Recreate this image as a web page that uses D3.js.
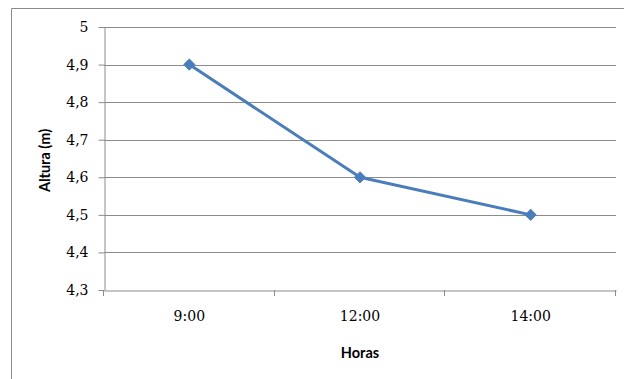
<!DOCTYPE html>
<html>
<head>
<meta charset="utf-8">
<script src="https://cdn.jsdelivr.net/npm/d3@7"></script>
<style>
  html, body { margin: 0; padding: 0; background: #fff; }
  svg { display: block; }
</style>
</head>
<body>
<svg id="chart" width="624" height="379"></svg>
<script>
// Altura medida a distintas horas
const categories = ["9:00", "12:00", "14:00"];
const alturas = [4.9, 4.6, 4.5];
const yTicks = [4.3, 4.4, 4.5, 4.6, 4.7, 4.8, 4.9, 5];

const svg = d3.select("#chart");
const W = 624, H = 379;
const plot = { left: 104, right: 616, top: 27, bottom: 290 };

// chart frame (left and top edges visible)
svg.append("path")
  .attr("d", `M11.5,${H} V8.5 H${W}`)
  .attr("fill", "none")
  .attr("stroke", "#8a8a8a")
  .attr("stroke-width", 1);

const x = d3.scaleBand().domain(categories).range([plot.left, plot.right]).padding(0);
const y = d3.scaleLinear().domain([4.3, 5]).range([plot.bottom, plot.top]);

const fmt = v => d3.format(".1f")(v).replace(".", ",").replace(/,0$/, "");
const tickFont = "'DejaVu Serif', 'Liberation Serif', serif";
const titleFont = "Lato, 'Open Sans', sans-serif";

// horizontal gridlines
svg.append("g")
  .selectAll("line")
  .data(yTicks.filter(t => t > 4.3))
  .join("line")
  .attr("x1", plot.left).attr("x2", plot.right)
  .attr("y1", d => Math.round(y(d)) + 0.5).attr("y2", d => Math.round(y(d)) + 0.5)
  .attr("stroke", "#8c8c8c").attr("stroke-width", 1);

// y axis
const yAxis = svg.append("g")
  .attr("transform", `translate(${plot.left + 0.5},0)`)
  .attr("font-family", tickFont)
  .call(d3.axisLeft(y).tickValues(yTicks).tickFormat(fmt).tickSize(6).tickSizeOuter(0));
yAxis.attr("font-family", tickFont).attr("font-size", 14);
yAxis.select(".domain").attr("stroke", "#8c8c8c");
yAxis.selectAll(".tick line").attr("stroke", "#8c8c8c");
yAxis.selectAll(".tick text")
  .attr("x", -16)
  .attr("fill", "#000");

// x axis
const xAxis = svg.append("g")
  .attr("transform", `translate(0,${plot.bottom + 0.5})`)
  .call(d3.axisBottom(x).tickSize(0).tickSizeOuter(0));
xAxis.attr("font-family", tickFont).attr("font-size", 14);
xAxis.select(".domain").attr("stroke", "#8c8c8c");
xAxis.selectAll(".tick text")
  .attr("y", 21)
  .attr("dy", "0.71em")
  .attr("fill", "#000");

// category separator ticks on the x axis
const boundaries = [plot.left, ...categories.map(c => x(c) + x.bandwidth())];
svg.append("g")
  .selectAll("line")
  .data(boundaries)
  .join("line")
  .attr("x1", d => Math.round(d) - 0.5).attr("x2", d => Math.round(d) - 0.5)
  .attr("y1", plot.bottom).attr("y2", plot.bottom + 6)
  .attr("stroke", "#8c8c8c");

// axis titles
svg.append("text")
  .attr("transform", `translate(50,${(plot.top + plot.bottom) / 2 + 2}) rotate(-90)`)
  .attr("text-anchor", "middle")
  .attr("font-family", titleFont)
  .attr("font-weight", "bold")
  .attr("font-size", 14.5)
  .text("Altura (m)");

svg.append("text")
  .attr("x", (plot.left + plot.right) / 2)
  .attr("y", 358)
  .attr("text-anchor", "middle")
  .attr("font-family", titleFont)
  .attr("font-weight", "bold")
  .attr("font-size", 14.5)
  .text("Horas");

// data line
const data = categories.map((c, i) => ({ c, v: alturas[i] }));
const cx = d => x(d.c) + x.bandwidth() / 2;

svg.append("path")
  .datum(data)
  .attr("fill", "none")
  .attr("stroke", "#4a7ebb")
  .attr("stroke-width", 3)
  .attr("stroke-linejoin", "round")
  .attr("d", d3.line().x(cx).y(d => y(d.v)));

svg.append("g")
  .selectAll("path")
  .data(data)
  .join("path")
  .attr("transform", d => `translate(${cx(d)},${y(d.v)})`)
  .attr("d", d3.symbol().type(d3.symbolDiamond2).size(80))
  .attr("fill", "#4a7ebb")
  .attr("stroke", "#4a7ebb")
  .attr("stroke-width", 1);
</script>
</body>
</html>
